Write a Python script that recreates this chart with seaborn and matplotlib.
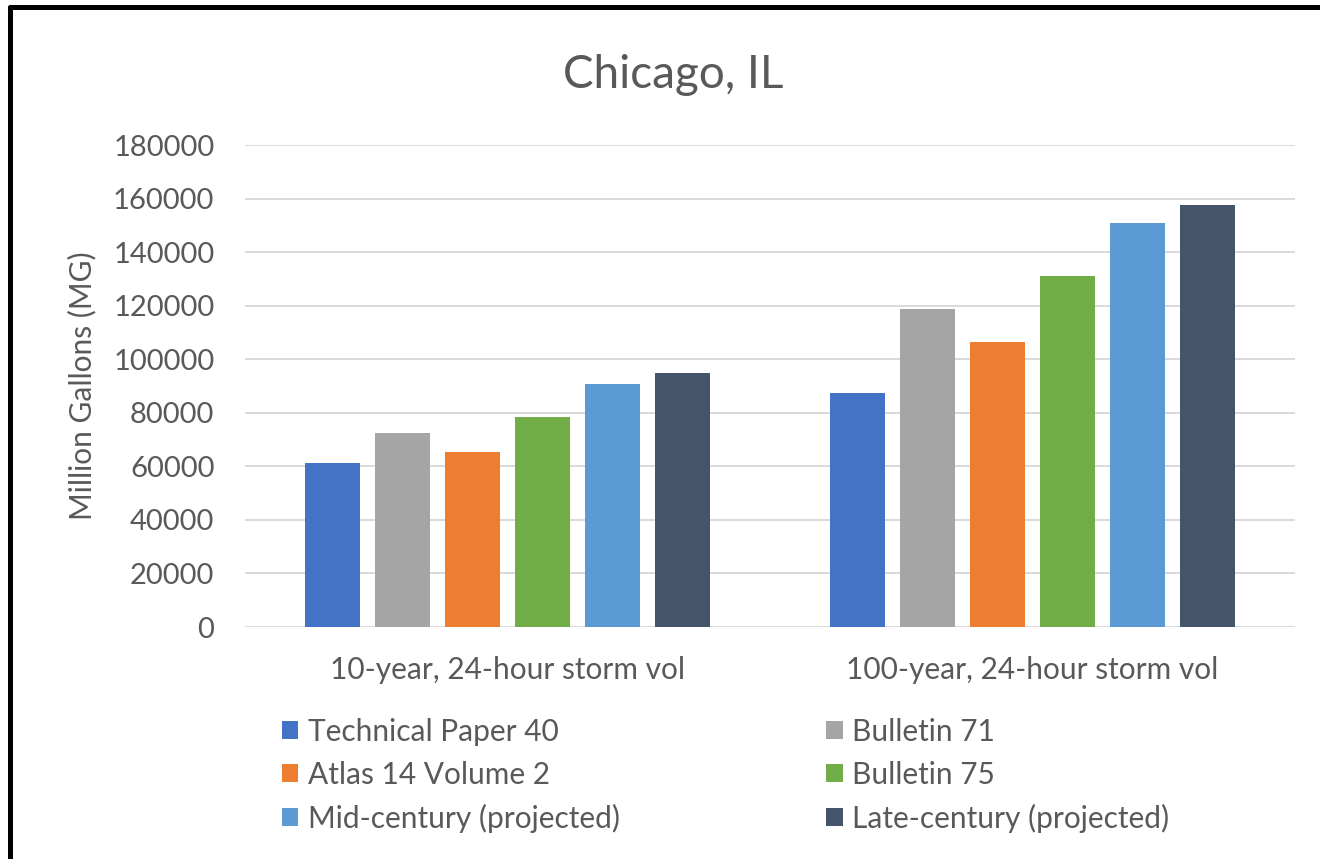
import matplotlib
matplotlib.use("Agg")
import matplotlib.pyplot as plt
import seaborn as sns
import pandas as pd
from matplotlib.lines import Line2D

categories = ["10-year, 24-hour storm vol", "100-year, 24-hour storm vol"]
series = ["Technical Paper 40", "Bulletin 71", "Atlas 14 Volume 2",
          "Bulletin 75", "Mid-century (projected)", "Late-century (projected)"]
values_10yr = [61100, 72600, 65500, 78500, 90600, 94700]
values_100yr = [87300, 118600, 106300, 131200, 150700, 157600]
colors = ["#4472C4", "#A5A5A5", "#ED7D31", "#70AD47", "#5B9BD5", "#44546A"]
yticks = [0, 20000, 40000, 60000, 80000, 100000, 120000, 140000, 160000, 180000]

rows = []
for s, v1, v2 in zip(series, values_10yr, values_100yr):
    rows.append({"cat": categories[0], "series": s, "value": v1})
    rows.append({"cat": categories[1], "series": s, "value": v2})
df = pd.DataFrame(rows)

sns.set_theme(style="white")
plt.rcParams["font.family"] = ["Lato", "DejaVu Sans"]
txt = "#595959"
fs = 21.5

W, H = 1320, 859
fig = plt.figure(figsize=(W / 100, H / 100), dpi=100)
ax = fig.add_axes([245 / W, 1 - 627 / H, (1295 - 245) / W, (627 - 145) / H])

sns.barplot(data=df, x="cat", y="value", hue="series", order=categories,
            hue_order=series, palette=colors, saturation=1, width=0.8, gap=0.21,
            linewidth=0, edgecolor="none", ax=ax, zorder=3)

ax.set_ylim(0, 180000)
ax.set_xlim(-0.5, 1.5)
ax.set_yticks(yticks)
ax.set_yticklabels([str(t) for t in yticks])
ax.grid(axis="y", color="#D9D9D9", linewidth=1.4, zorder=0)
ax.grid(axis="x", visible=False)
for sp in ax.spines.values():
    sp.set_visible(False)
ax.tick_params(axis="y", length=0, pad=22, labelsize=21, labelcolor=txt)
ax.tick_params(axis="x", length=0, pad=21, labelsize=fs, labelcolor=txt)
ax.set_xlabel("")
ax.set_ylabel("")

# legend: reorder so columns read as in the reference
handles, labels = ax.get_legend_handles_labels()
order = [0, 2, 4, 1, 3, 5]
ax.legend([handles[i] for i in order], [labels[i] for i in order],
          ncol=2, loc="upper left", bbox_to_anchor=(255 / W, 1 - 691 / H),
          bbox_transform=fig.transFigure, frameon=False, fontsize=fs,
          handlelength=0.55, handleheight=0.55, handletextpad=0.33,
          labelspacing=0.5, columnspacing=6.9, labelcolor=txt)

fig.text(673 / W, 1 - 75 / H, "Chicago, IL", ha="center", va="center",
         fontsize=33, color=txt)
fig.text(82 / W, 1 - 386 / H, "Million Gallons (MG)", ha="center", va="center",
         rotation=90, fontsize=fs, color=txt)

# black frame (top and left edges visible in the reference)
fig.add_artist(Line2D([10 / W, 10 / W], [0, 1 - 7 / H], color="black",
                      linewidth=3.6, transform=fig.transFigure))
fig.add_artist(Line2D([10 / W, 1], [1 - 7 / H, 1 - 7 / H], color="black",
                      linewidth=3.6, transform=fig.transFigure))

fig.savefig("out.png", dpi=100, facecolor="white")
